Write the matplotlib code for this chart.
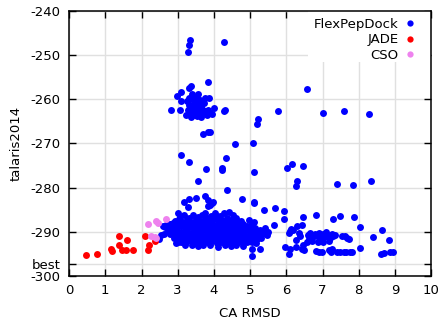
import numpy as np
import matplotlib
matplotlib.use("Agg")
import matplotlib.pyplot as plt
from matplotlib.patches import Rectangle

# FlexPepDock: upper cluster around -260
fpd_top_x = [3.34, 3.32, 3.29, 4.28, 3.85, 3.37, 3.30, 3.08, 2.99, 3.57, 3.76, 3.86,
             3.10, 3.61, 2.81, 3.06, 3.99, 4.27, 4.31, 3.94,
             3.25, 3.30, 3.35, 3.40, 3.45, 3.50, 3.55, 3.60, 3.65, 3.70, 3.28, 3.33,
             3.38, 3.43, 3.48, 3.53, 3.58, 3.63, 3.68, 3.75, 3.80, 3.72, 3.42, 3.52,
             3.62, 3.36, 3.46, 3.56, 3.66, 3.22, 3.85, 3.88, 3.31, 3.40, 3.58]
fpd_top_y = [-246.5, -247.7, -249.4, -247.1, -256.1, -257.0, -257.5, -258.4, -259.3, -258.7, -259.6, -259.8,
             -260.4, -260.5, -262.4, -262.5, -262.0, -262.6, -262.5, -263.4,
             -260.5, -261.2, -260.0, -261.8, -260.8, -262.3, -261.0, -262.8, -261.5, -263.0, -262.5, -263.2,
             -262.0, -263.6, -263.0, -263.8, -263.2, -263.9, -262.2, -262.6, -263.5, -260.8, -259.5, -259.9,
             -260.2, -264.0, -262.6, -262.0, -260.6, -263.6, -262.5, -263.2, -259.8, -258.7, -261.6]

# FlexPepDock: scattered points between the clusters
fpd_mid_x = [3.70, 3.85, 3.90, 4.58, 5.09, 5.21, 5.20, 6.57, 5.76, 7.02, 7.60, 8.28,
             3.08, 3.32, 4.32, 3.78, 4.22, 4.22, 5.12, 3.57, 4.36, 3.76, 3.50,
             6.29, 6.28, 7.41, 7.85, 8.35, 4.78, 5.11, 6.02, 6.15, 6.46,
             3.17, 3.32, 3.85, 3.97, 5.10, 3.83, 3.28, 3.02, 3.74, 4.03,
             4.29, 4.43, 4.52, 4.96, 5.10, 3.88, 3.95]
fpd_mid_y = [-267.9, -267.4, -267.3, -270.2, -270.0, -264.5, -265.7, -257.6, -262.6, -263.0, -262.7, -263.3,
             -272.6, -274.2, -273.3, -275.7, -275.5, -276.0, -276.4, -278.6, -280.6, -282.0, -282.3,
             -278.5, -279.6, -279.1, -279.5, -278.5, -282.6, -283.3, -275.5, -274.7, -275.0,
             -283.3, -282.6, -282.8, -283.2, -283.4, -284.2, -284.5, -285.7, -285.8, -285.8,
             -285.8, -285.6, -286.3, -287.3, -287.8, -284.0, -283.4]

# FlexPepDock: dense lower cluster
fpd_core_x = [3.05, 3.18, 3.30, 3.42, 3.55, 3.66, 3.80, 3.92, 4.05, 4.18, 4.35, 4.62,
              2.92, 3.04, 3.15, 3.27, 3.38, 3.50, 3.62, 3.74, 3.86, 3.98, 4.10, 4.22, 4.34, 4.46, 4.60, 4.75,
              2.78, 2.88, 3.00, 3.12, 3.24, 3.36, 3.48, 3.60, 3.72, 3.84, 3.96, 4.08, 4.20, 4.32, 4.44, 4.56,
              4.68, 4.80, 4.92, 5.05,
              2.64, 2.75, 2.86, 2.98, 3.10, 3.22, 3.34, 3.46, 3.58, 3.70, 3.82, 3.94, 4.06, 4.18, 4.30, 4.42,
              4.54, 4.66, 4.78, 4.90, 5.02, 5.14, 5.26, 5.40,
              2.72, 2.84, 2.96, 3.08, 3.20, 3.32, 3.44, 3.56, 3.68, 3.80, 3.92, 4.04, 4.16, 4.28, 4.40, 4.52,
              4.64, 4.76, 4.88, 5.00, 5.12, 5.24, 5.36, 5.48,
              2.80, 2.92, 3.04, 3.16, 3.28, 3.40, 3.52, 3.64, 3.76, 3.88, 4.00, 4.12, 4.24, 4.36, 4.48, 4.60,
              4.72, 4.84, 4.96, 5.08, 5.20, 5.32, 5.46,
              2.90, 3.02, 3.14, 3.26, 3.38, 3.50, 3.62, 3.74, 3.86, 3.98, 4.10, 4.22, 4.34, 4.46, 4.58, 4.70,
              4.82, 4.94, 5.06, 5.18, 5.30,
              3.00, 3.12, 3.24, 3.36, 3.48, 3.60, 3.72, 3.84, 3.96, 4.08, 4.20, 4.32, 4.44, 4.56, 4.68, 4.80,
              4.92, 5.04, 5.16,
              2.96, 3.08, 3.20, 3.55, 3.70, 4.10, 4.30, 4.48, 4.79, 5.05, 5.28, 5.04, 4.60, 3.40, 3.88,
              2.59, 2.68, 2.77, 2.62, 2.48, 2.53]
fpd_core_y = [-286.6, -286.2, -286.8, -286.3, -286.7, -286.1, -286.9, -286.4, -286.8, -286.5, -286.9, -286.8,
              -287.6, -287.2, -287.7, -287.3, -287.8, -287.2, -287.6, -287.3, -287.7, -287.2, -287.6, -287.3,
              -287.7, -287.4, -287.8, -287.5,
              -288.3, -288.0, -288.4, -288.1, -288.5, -288.0, -288.3, -288.6, -288.1, -288.4, -288.0, -288.5,
              -288.2, -288.6, -288.1, -288.4, -288.7, -288.2, -288.6, -288.3,
              -289.0, -289.3, -288.9, -289.2, -288.8, -289.3, -289.0, -289.4, -288.9, -289.2, -289.5, -289.0,
              -289.3, -288.9, -289.4, -289.1, -289.5, -289.0, -289.3, -289.0, -289.4, -289.1, -289.5, -289.2,
              -289.9, -290.1, -289.7, -290.0, -289.6, -290.2, -289.8, -290.1, -289.7, -290.0, -289.8, -290.2,
              -289.7, -290.0, -289.8, -290.2, -289.9, -290.1, -289.7, -290.0, -289.8, -290.2, -289.9, -290.1,
              -290.5, -290.8, -290.4, -290.7, -290.9, -290.5, -290.8, -290.4, -290.9, -290.6, -290.9, -290.5,
              -290.8, -290.6, -290.9, -290.5, -290.8, -290.6, -290.9, -290.5, -290.8, -290.6, -290.8,
              -291.3, -291.6, -291.2, -291.5, -291.7, -291.3, -291.6, -291.2, -291.5, -291.7, -291.3, -291.6,
              -291.4, -291.7, -291.3, -291.6, -291.2, -291.5, -291.3, -291.7, -291.4,
              -292.2, -292.0, -292.4, -292.1, -292.5, -292.2, -292.0, -292.4, -292.1, -292.5, -292.2, -292.0,
              -292.4, -292.1, -292.3, -292.0, -292.4, -292.2, -292.5,
              -292.6, -292.4, -293.0, -293.2, -292.9, -293.4, -293.0, -293.2, -293.2, -293.8, -294.0, -295.5,
              -292.9, -293.1, -293.1,
              -288.7, -288.5, -288.3, -290.6, -291.6, -290.8]

# FlexPepDock: right part (RMSD > 5.3)
fpd_right_x = [5.37, 5.69, 5.94, 5.93, 5.66, 6.47, 6.81, 7.30, 7.47, 7.86, 8.03, 8.63, 8.39, 8.83,
               6.09, 6.13, 6.06, 6.18, 6.30, 6.43, 6.36, 6.28, 5.95, 6.09, 6.07, 6.26, 6.45, 6.50,
               6.56, 6.42, 6.39,
               6.60, 6.66, 6.72, 6.78, 6.84, 6.90, 6.95, 7.00, 7.05, 7.10, 7.15, 7.20, 7.25, 7.30,
               6.70, 6.88, 7.02, 7.18, 6.62, 7.35,
               6.82, 6.91, 6.98, 7.18, 7.27, 7.55, 7.61, 7.67, 7.73,
               7.23, 7.41, 7.48, 7.60, 7.66, 7.75, 7.81, 8.03, 8.61, 8.71, 8.87, 8.95]
fpd_right_y = [-285.1, -284.7, -285.4, -287.2, -288.5, -286.6, -286.2, -287.2, -286.4, -286.6, -288.9, -289.7,
               -291.2, -291.8,
               -289.8, -289.4, -290.3, -289.6, -288.8, -288.4, -290.3, -291.9, -293.4, -293.9, -295.0, -293.4,
               -293.1, -294.1, -292.4, -293.8, -291.0,
               -290.8, -290.2, -291.3, -290.5, -291.0, -290.3, -291.6, -290.6, -291.2, -290.1, -290.9, -291.5,
               -290.4, -291.0,
               -292.0, -292.2, -292.4, -292.0, -291.7, -290.7,
               -294.3, -294.6, -294.6, -294.1, -293.8, -290.9, -291.0, -291.3, -291.7,
               -294.5, -294.6, -294.6, -294.6, -294.6, -294.6, -294.5, -293.7, -295.0, -294.9, -294.6, -294.6]

jade_x = [0.48, 0.78, 1.16, 1.18, 1.37, 1.37, 1.59, 1.46, 1.57, 1.77, 2.09, 2.20, 2.17, 2.36]
jade_y = [-295.3, -295.0, -294.0, -294.3, -290.9, -293.0, -291.9, -294.2, -294.2, -294.2, -290.9, -293.0,
          -294.2, -292.0]

cso_x = [2.19, 2.40, 2.46, 2.68, 2.25, 2.36, 2.41]
cso_y = [-288.3, -287.5, -287.9, -287.1, -290.9, -291.1, -291.4]

best = -297.2
ytick_vals = [-300, best, -290, -280, -270, -260, -250, -240]
ytick_labels = ['-300', 'best', '-290', '-280', '-270', '-260', '-250', '-240']

fpd_x = fpd_top_x + fpd_mid_x + fpd_core_x + fpd_right_x
fpd_y = fpd_top_y + fpd_mid_y + fpd_core_y + fpd_right_y

plt.rcParams['font.family'] = 'DejaVu Sans'
fs = 9.5
fig = plt.figure(figsize=(4.4, 3.22), dpi=100)
ax = fig.add_axes([0.157, 0.143, 0.823, 0.823])

ms = 5.0
ax.plot(fpd_x, fpd_y, 'o', color='#0000ff', ms=ms, mew=0, label='FlexPepDock', zorder=3)
ax.plot(jade_x, jade_y, 'o', color='#ff0000', ms=ms, mew=0, label='JADE', zorder=3)
ax.plot(cso_x, cso_y, 'o', color='#ee82ee', ms=ms, mew=0, label='CSO', zorder=3)

ax.set_xlim(0, 10)
ax.set_ylim(-300, -240)
ax.set_xticks(range(0, 11))
ax.set_yticks(ytick_vals)
ax.set_yticklabels(ytick_labels)
ax.grid(True, color='#e0e0e0', linewidth=1.0)
ax.set_axisbelow(True)
ax.tick_params(direction='in', length=5, width=1, top=True, right=True,
               labelsize=fs, pad=6)
for s in ax.spines.values():
    s.set_linewidth(1.1)

ax.set_xlabel('CA RMSD', fontsize=fs, labelpad=7)
ax.set_ylabel('talaris2014', fontsize=fs, labelpad=6)

# opaque key area like gnuplot
ax.add_patch(Rectangle((0.66, 0.807), 0.34, 0.193, transform=ax.transAxes,
                       facecolor='white', edgecolor='none', zorder=1))

leg = ax.legend(loc='upper right', bbox_to_anchor=(0.975, 0.995), markerfirst=False,
                fontsize=fs, frameon=False, borderaxespad=0, handlelength=1.0,
                handletextpad=0.4, labelspacing=0.2, borderpad=0.4, markerscale=0.9)
for t in leg.get_texts():
    t.set_ha('right')

fig.savefig('out.png', dpi=100)
